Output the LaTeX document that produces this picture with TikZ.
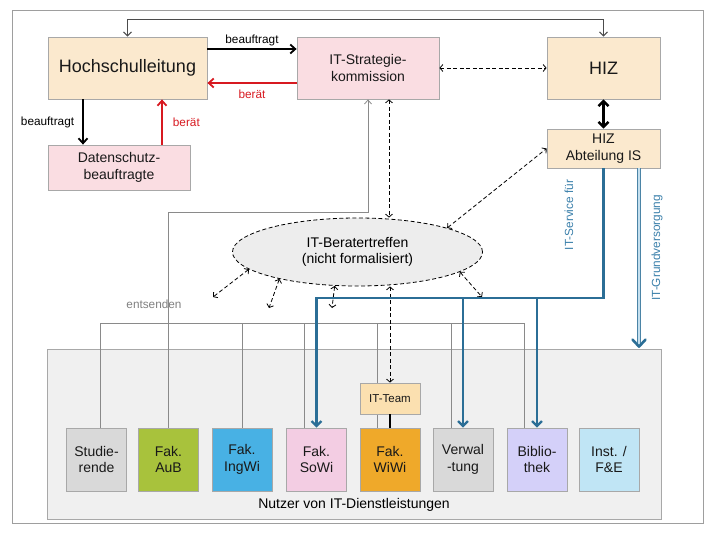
\documentclass[tikz,border=0pt]{standalone}
\usepackage{fontspec}
\setmainfont{Liberation Sans}
\usetikzlibrary{arrows.meta,shapes.geometric,calc}
\definecolor{beige}{HTML}{FBE9CE}
\definecolor{pinkbox}{HTML}{FADDE2}
\definecolor{boxgray}{HTML}{A8A8A8}
\definecolor{framegray}{HTML}{9E9E9E}
\definecolor{lightgray}{HTML}{D9D9D9}
\definecolor{aubgreen}{HTML}{A8C23C}
\definecolor{ingblue}{HTML}{48B1E4}
\definecolor{sowipink}{HTML}{F3CDE3}
\definecolor{wiwiorange}{HTML}{EFA92A}
\definecolor{biblav}{HTML}{D4D0F9}
\definecolor{instblue}{HTML}{C0E5F5}
\definecolor{teamfill}{HTML}{FBE0B0}
\definecolor{nutzerfill}{HTML}{F0F0F0}
\definecolor{ellfill}{HTML}{EDEDED}
\definecolor{itblue}{HTML}{2B6E96}
\definecolor{itbluetext}{HTML}{3A7FAA}
\definecolor{gvpale}{HTML}{C4DFEE}
\definecolor{redarrow}{HTML}{D71920}
\definecolor{treegray}{HTML}{8A8A8A}
\newcommand\fsz[2]{\fontsize{#1}{#2}\selectfont}
\begin{document}
\begin{tikzpicture}[x=1pt,y=-1pt,
  box/.style={draw=boxgray, line width=0.8pt, align=center, inner sep=0pt, font=\fsz{14}{16.5}, text=black!90},
  ubox/.style={box, minimum width=60, minimum height=63},
  lbl/.style={inner sep=0pt, font=\fsz{11.8}{13}},
  blackarr/.style={line width=1.8pt, -{Straight Barb[length=5pt,width=9pt]}},
  redarr/.style={draw=redarrow, line width=1.8pt, -{Straight Barb[length=5pt,width=9pt]}},
  thickarr/.style={line width=2.4pt, {Straight Barb[length=5pt,width=10pt]}-{Straight Barb[length=5pt,width=10pt]}},
  dasharr/.style={line width=0.8pt, dash pattern=on 4pt off 2.5pt, {Straight Barb[length=3pt,width=7pt]}-{Straight Barb[length=3pt,width=7pt]}},
  topline/.style={draw=black!70, line width=1pt, {Straight Barb[length=4pt,width=8pt]}-{Straight Barb[length=4pt,width=8pt]}},
  grayarr/.style={draw=treegray, line width=0.8pt, -{Straight Barb[length=4pt,width=7pt]}},
  grayline/.style={draw=treegray, line width=0.8pt},
  bluearr/.style={draw=itblue, line width=2.2pt, -{Straight Barb[length=5pt,width=10pt]}},
  bluetxt/.style={inner sep=0pt, font=\fsz{11.8}{13}, text=itbluetext, rotate=90},
  gvline/.style={draw=itblue!85, line width=0.9pt, double=gvpale, double distance=1.5pt},
  gvhead/.style={draw=itblue, line width=2.6pt, line cap=round, line join=round}
]
\useasboundingbox (0,0) rectangle (720,540);
\draw[draw=framegray, line width=0.8pt] (12,10) rectangle (703,523);

% users area
\node[draw=boxgray, line width=0.8pt, fill=nutzerfill, minimum width=614, minimum height=170, inner sep=0pt] (nutzer) at (354,434) {};
\node[inner sep=0pt, font=\fsz{14}{16.5}] (nutzerlbl) at (354,505) {Nutzer von IT-Dienstleistungen};

% top boxes
\node[box, fill=beige, minimum width=159, minimum height=62, font=\fsz{18}{20}] (hl) at (127.5,68) {Hochschulleitung};
\node[box, fill=pinkbox, minimum width=142, minimum height=62] (itsk) at (368,68) {IT-Strategie-\\kommission};
\node[box, fill=beige, minimum width=113, minimum height=62, font=\fsz{18}{20}] (hiz) at (603.5,68) {HIZ};
\node[box, fill=beige, minimum width=113, minimum height=39] (abt) at (603.5,148.5) {HIZ\\Abteilung IS};
\node[box, fill=pinkbox, minimum width=142, minimum height=45] (ds) at (119,167.5) {Datenschutz-\\beauftragte};

% ellipse
\node[ellipse, draw=black, line width=0.8pt, dash pattern=on 4pt off 2.5pt, fill=ellfill, minimum width=250, minimum height=68, inner sep=0pt, align=center, font=\fsz{14}{16.5}] (ell) at (357.5,252) {IT-Beratertreffen\\(nicht formalisiert)};

% user boxes
\node[ubox, fill=lightgray] (stud) at (96.5,459.5) {Studie-\\rende};
\node[ubox, fill=aubgreen] (aub) at (168.5,459.5) {Fak.\\AuB};
\node[ubox, fill=ingblue] (ing) at (242,459.5) {Fak.\\IngWi};
\node[ubox, fill=sowipink] (sowi) at (316.5,459.5) {Fak.\\SoWi};
\node[ubox, fill=wiwiorange] (wiwi) at (390,459.5) {Fak.\\WiWi};
\node[ubox, fill=lightgray] (verw) at (463,459.5) {Verwal\\-tung};
\node[ubox, fill=biblav] (bib) at (537,459.5) {Biblio-\\thek};
\node[ubox, fill=instblue] (inst) at (609,459.5) {Inst. /\\F\&E};

% helper coordinates
\coordinate (ytop) at (0,20);
\coordinate (xa) at (83,0);
\coordinate (xb) at (162,0);
\coordinate (xd) at (389,0);
\coordinate (yg) at (0,212);
\coordinate (ye) at (0,323);
\coordinate (yb) at (0,298);
\coordinate (xg) at (639,0);
\coordinate (s1) at ([xshift=4pt]stud.north);
\coordinate (s3) at ([xshift=-12.5pt]sowi.north);
\coordinate (s4) at ([xshift=-13pt]wiwi.north);
\coordinate (s5) at ([xshift=-12pt]verw.north);
\coordinate (s6) at ([xshift=-13pt]bib.north);

% entsenden tree
\draw[grayline] (s1) -- (s1 |- ye) -- (s6 |- ye) -- (s6);
\foreach \s in {ing.north,s3,s4,s5} \draw[grayline] (\s) -- (\s |- ye);
\draw[grayarr] (aub.north) -- (aub.north |- yg) -| (itsk.south);
\node[inner sep=0pt, font=\fsz{11.8}{13}, text=black!50] (ent) at (154,304) {entsenden};

% IT-Team
\node[box, fill=teamfill, minimum width=60, minimum height=31, font=\fsz{11.5}{13}] (team) at (390,398.5) {IT-Team};
\draw[line width=2pt] (team.south) -- (wiwi.north);

% top connections
\draw[topline] (hl.north) -- (hl.north |- ytop) -| (hiz.north);
\draw[blackarr] ([yshift=19pt]hl.east) -- ([yshift=19pt]itsk.west) node[midway, above=2pt, lbl] {beauftragt};
\draw[redarr] ([yshift=-15pt]itsk.west) -- ([yshift=-15pt]hl.east) node[midway, below=6pt, lbl, text=redarrow] {berät};
\draw[blackarr] (hl.south -| xa) -- (ds.north -| xa) node[midway, left=8pt, lbl] {beauftragt};
\draw[redarr] (ds.north -| xb) -- (hl.south -| xb) node[midway, right=10pt, lbl, text=redarrow] {berät};
\draw[dasharr] (itsk.east) -- (hiz.west);
\draw[thickarr] (hiz.south) -- (abt.north);

% dashed arrows around ellipse
\draw[dasharr] (itsk.south -| xd) -- (ell.north -| xd);
\draw[dasharr] (ell.15) -- (abt.west);
\coordinate (e1) at (482,297);
\coordinate (e2) at (213,297);
\coordinate (e3) at (269,308);
\coordinate (e4) at (332,308);
\draw[dasharr] (ell.-11) -- (e1);
\draw[dasharr] (ell.189) -- (e2);
\draw[dasharr] (ell.199) -- (e3);
\draw[dasharr] (ell.236) -- (e4);
\draw[dasharr] (team.north |- ell.south) -- (team.north);

% IT service (blue)
\draw[bluearr] (abt.south) |- (sowi.north |- yb) -- (sowi.north);
\draw[bluearr] (verw.north |- yb) -- (verw.north);
\draw[bluearr] (bib.north |- yb) -- (bib.north);
\node[bluetxt] (svc) at (569,215) {IT-Service für};

% IT-Grundversorgung
\coordinate (gvtip) at (nutzer.north -| xg);
\draw[gvline] (abt.south -| xg) -- ([yshift=5pt]gvtip);
\draw[gvhead] ([shift={(-6.5pt,9pt)}]gvtip) -- ([yshift=2pt]gvtip) -- ([shift={(6.5pt,9pt)}]gvtip);
\node[bluetxt] (gv) at (657,248) {IT-Grundversorgung};
\end{tikzpicture}
\end{document}
